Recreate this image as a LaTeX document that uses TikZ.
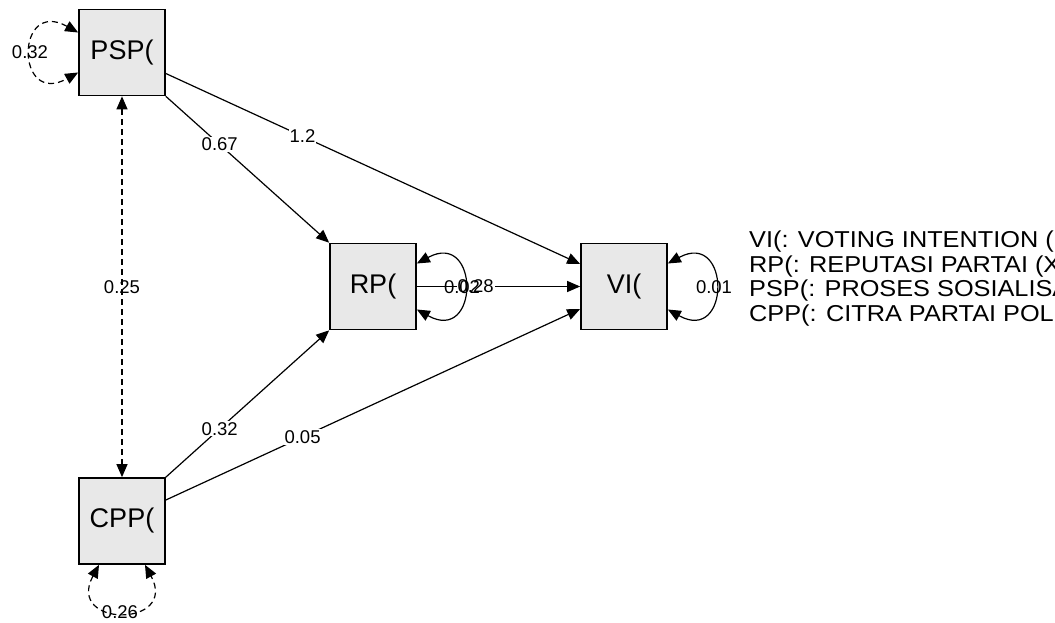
\documentclass[tikz,border=0pt]{standalone}
\usepackage{fontspec}
\setmainfont{Liberation Sans}
\newfontfamily\legendfont[FakeStretch=1.1]{Liberation Sans}
\usetikzlibrary{arrows.meta,calc}
\definecolor{boxgray}{RGB}{232,232,232}
\begin{document}
\begin{tikzpicture}[x=1pt,y=-1pt,
  var/.style={draw,line width=1.7pt,fill=boxgray,minimum size=86pt,inner sep=0pt,
    font=\fontsize{27}{30}\selectfont},
  arr/.style={line width=1.2pt,-{Triangle[length=13pt,width=11pt]}},
  dbl/.style={line width=1.2pt,{Triangle[length=13pt,width=11pt]}-{Triangle[length=13pt,width=11pt]}},
  dsh/.style={dash pattern=on 6pt off 4pt},
  elab/.style={fill=white,inner sep=1pt,font=\fontsize{18.5}{20}\selectfont},
  llab/.style={inner sep=0pt,font=\fontsize{18.5}{20}\selectfont},
  leg/.style={anchor=base west,inner sep=0pt,font=\legendfont\fontsize{23}{24}\selectfont}
]
\useasboundingbox (0,0) rectangle (1055,623);
\clip (0,0) rectangle (1055,623);

\node[var] (psp) at (122,52.5) {PSP(};
\node[var] (rp)  at (373,286.5) {RP(};
\node[var] (vi)  at (624,286.5) {VI(};
\node[var] (cpp) at (122,521) {CPP(};

% directed paths
\draw[arr] (psp.south east) -- node[elab,pos=0.33] (l67) {0.67} (rp.north west);
\draw[arr] ($(psp.east)+(0,21)$) -- node[elab,pos=0.33] (l12) {1.2} ($(vi.west)+(0,-22.5)$);
\draw[arr] (cpp.north east) -- node[elab,pos=0.33] (l32) {0.32} (rp.south west);
\draw[arr] ($(cpp.east)+(0,-21)$) -- node[elab,pos=0.33] (l05) {0.05} ($(vi.west)+(0,22.5)$);
\draw[arr] (rp.east) -- node[elab,pos=0.36] (l28) {0.28} (vi.west);

% covariance
\draw[dbl,dsh] (psp.south) -- node[llab] (l25) {0.25} (cpp.north);

% variances
\draw[dbl,dsh] ($(psp.west)+(0,-20)$) .. controls ($(psp.west)+(-63,-55)$) and ($(psp.west)+(-63,55)$) .. ($(psp.west)+(0,20)$);
\node[llab] (v32) at (30,52) {0.32};
\draw[dbl,dsh] ($(cpp.south)+(-23,0)$) .. controls ($(cpp.south)+(-57,63)$) and ($(cpp.south)+(57,63)$) .. ($(cpp.south)+(23,0)$);
\node[llab] (v26) at (120,612) {0.26};
\draw[dbl] ($(rp.east)+(0,-23)$) .. controls ($(rp.east)+(63,-57)$) and ($(rp.east)+(63,58)$) .. ($(rp.east)+(0,23)$);
\node[llab] (v02) at (462,287) {0.02};
\draw[dbl] ($(vi.east)+(0,-23)$) .. controls ($(vi.east)+(63,-57)$) and ($(vi.east)+(63,58)$) .. ($(vi.east)+(0,23)$);
\node[llab] (v01) at (714,287) {0.01};

% legend
\node[leg] (leg1) at (749,247.5) {VI(: VOTING INTENTION (};
\node[leg] (leg2) at (749,272) {RP(: REPUTASI PARTAI (X};
\node[leg] (leg3) at (749,296.5) {PSP(: PROSES SOSIALISA};
\node[leg] (leg4) at (749,321) {CPP(: CITRA PARTAI POL};
\end{tikzpicture}
\end{document}
